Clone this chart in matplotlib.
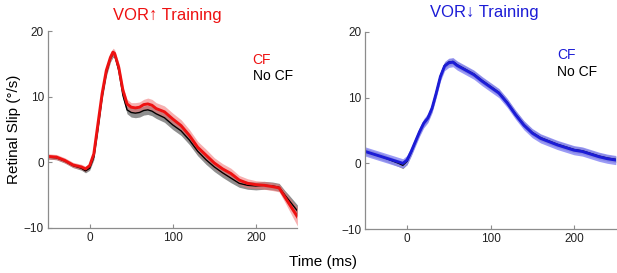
# Retinal slip, VOR up / down training

import numpy as np
import matplotlib.pyplot as plt

plt.rcParams['font.family'] = ['Liberation Sans', 'DejaVu Sans']

# left panel: VOR increase training
t_up = [-50, -40, -30, -20, -10, -5, 0, 5, 10, 15, 20, 25, 28, 30, 35, 40, 45, 50, 55, 60,
        65, 70, 75, 80, 90, 100, 110, 120, 130, 140, 150, 160, 170, 180, 190, 200, 210,
        220, 228, 235, 240, 250]
cf_up = [0.9, 0.8, 0.3, -0.4, -0.7, -1.0, -0.5, 1.3, 5.9, 10.5, 14.0, 16.0, 16.8, 16.6,
         14.5, 11.0, 8.9, 8.4, 8.3, 8.4, 8.8, 8.9, 8.7, 8.2, 7.7, 6.6, 5.6, 4.1, 2.3, 1.1,
         -0.1, -1.0, -1.7, -2.7, -3.2, -3.4, -3.5, -3.7, -3.9, -5.3, -6.3, -8.3]
cf_up_sem = [0.4, 0.4, 0.4, 0.4, 0.4, 0.4, 0.4, 0.5, 0.6, 0.6, 0.6, 0.6, 0.6, 0.6,
             0.6, 0.6, 0.7, 0.7, 0.8, 0.8, 0.8, 0.9, 0.9, 0.9, 0.9, 0.9, 0.9, 0.9, 0.9, 0.9,
             0.8, 0.8, 0.8, 0.7, 0.7, 0.6, 0.6, 0.6, 0.6, 0.8, 1.0, 1.4]
nocf_up = [0.8, 0.7, 0.2, -0.5, -0.9, -1.3, -0.9, 0.8, 5.2, 10.0, 13.6, 15.8, 16.5, 16.4,
           14.0, 10.2, 8.0, 7.6, 7.5, 7.6, 7.9, 8.0, 7.8, 7.4, 6.8, 5.7, 4.8, 3.4, 1.7, 0.4,
           -0.7, -1.6, -2.4, -3.2, -3.5, -3.6, -3.5, -3.6, -3.8, -5.0, -5.8, -7.4]
nocf_up_sem = [0.3, 0.3, 0.3, 0.3, 0.3, 0.3, 0.3, 0.4, 0.5, 0.5, 0.5, 0.5, 0.5, 0.5,
               0.5, 0.5, 0.6, 0.7, 0.7, 0.7, 0.7, 0.7, 0.7, 0.7, 0.7, 0.7, 0.7, 0.7, 0.7,
               0.7, 0.7, 0.7, 0.7, 0.6, 0.6, 0.6, 0.6, 0.6, 0.6, 0.7, 0.8, 0.9]

# right panel: VOR decrease training
t_dn = [-50, -40, -30, -20, -10, -5, 0, 5, 10, 15, 20, 25, 30, 35, 40, 45, 50, 55, 60, 70,
        80, 90, 100, 110, 120, 130, 140, 150, 160, 170, 180, 190, 200, 210, 220, 230, 240, 250]
cf_dn = [1.8, 1.4, 1.0, 0.6, 0.2, 0.0, 0.5, 1.8, 3.3, 4.8, 6.1, 6.9, 8.4, 10.7, 13.2, 14.8,
         15.3, 15.4, 14.9, 14.2, 13.5, 12.5, 11.6, 10.7, 9.2, 7.4, 5.8, 4.6, 3.8, 3.3, 2.8,
         2.4, 2.0, 1.8, 1.4, 1.0, 0.7, 0.5]
nocf_dn = [1.8, 1.4, 1.0, 0.5, 0.0, -0.3, 0.3, 1.7, 3.3, 4.8, 6.1, 6.9, 8.4, 10.8, 13.3,
           14.9, 15.4, 15.5, 15.0, 14.3, 13.6, 12.6, 11.7, 10.8, 9.3, 7.5, 5.9, 4.7, 3.9,
           3.4, 2.9, 2.5, 2.1, 1.9, 1.5, 1.1, 0.8, 0.6]
cf_dn_sem = 0.7
nocf_dn_sem = 0.5

xticks = [0, 100, 200]
yticks = [-10, 0, 10, 20]

fig = plt.figure(figsize=(6.17, 2.73), dpi=100)
ax1 = fig.add_axes([0.078, 0.165, 0.404, 0.721])
ax2 = fig.add_axes([0.592, 0.161, 0.406, 0.722])


def draw_panel(ax, t, cf, cf_sem, nocf, nocf_sem, col, band_col, band_alpha):
    t = np.array(t)
    cf = np.array(cf)
    nocf = np.array(nocf)
    cf_sem = np.array(cf_sem)
    nocf_sem = np.array(nocf_sem)
    ax.fill_between(t, nocf - nocf_sem, nocf + nocf_sem, color='#6a6a6a', alpha=0.75, lw=0)
    ax.plot(t, nocf, color='black', lw=1.0)
    ax.fill_between(t, cf - cf_sem, cf + cf_sem, color=band_col, alpha=band_alpha, lw=0)
    ax.plot(t, cf, color=col, lw=2.1)
    ax.set_xlim(-50, 250)
    ax.set_ylim(-10, 20)
    ax.set_xticks(xticks)
    ax.set_yticks(yticks)
    for s in ['top', 'right']:
        ax.spines[s].set_visible(False)
    for s in ['left', 'bottom']:
        ax.spines[s].set_color('#8c8c8c')
        ax.spines[s].set_linewidth(0.9)
    ax.tick_params(direction='in', length=3, color='#8c8c8c', labelsize=8.5,
                   labelcolor='#222222', pad=3)


draw_panel(ax1, t_up, cf_up, cf_up_sem, nocf_up, nocf_up_sem, '#ee1111', '#f07070', 0.55)
draw_panel(ax2, t_dn, cf_dn, cf_dn_sem, nocf_dn, nocf_dn_sem, '#1c1cd6', '#8a8af5', 0.85)

ax1.text(0.48, 1.08, 'VOR\u2191 Training', transform=ax1.transAxes, ha='center',
         va='center', fontsize=12, color='#ee1111')
ax2.text(0.474, 1.10, 'VOR\u2193 Training', transform=ax2.transAxes, ha='center',
         va='center', fontsize=12, color='#1c1cd6')

ax1.text(196, 15.6, 'CF', ha='left', va='center', fontsize=10, color='#ee1111')
ax1.text(196, 13.2, 'No CF', ha='left', va='center', fontsize=10, color='black')
ax2.text(180, 16.5, 'CF', ha='left', va='center', fontsize=10, color='#1c1cd6')
ax2.text(180, 13.9, 'No CF', ha='left', va='center', fontsize=10, color='black')

ax1.set_ylabel('Retinal Slip (\u00b0/s)', fontsize=11, labelpad=2)
fig.text(0.523, 0.04, 'Time (ms)', ha='center', va='center', fontsize=11)

fig.savefig('out.png', dpi=100)
